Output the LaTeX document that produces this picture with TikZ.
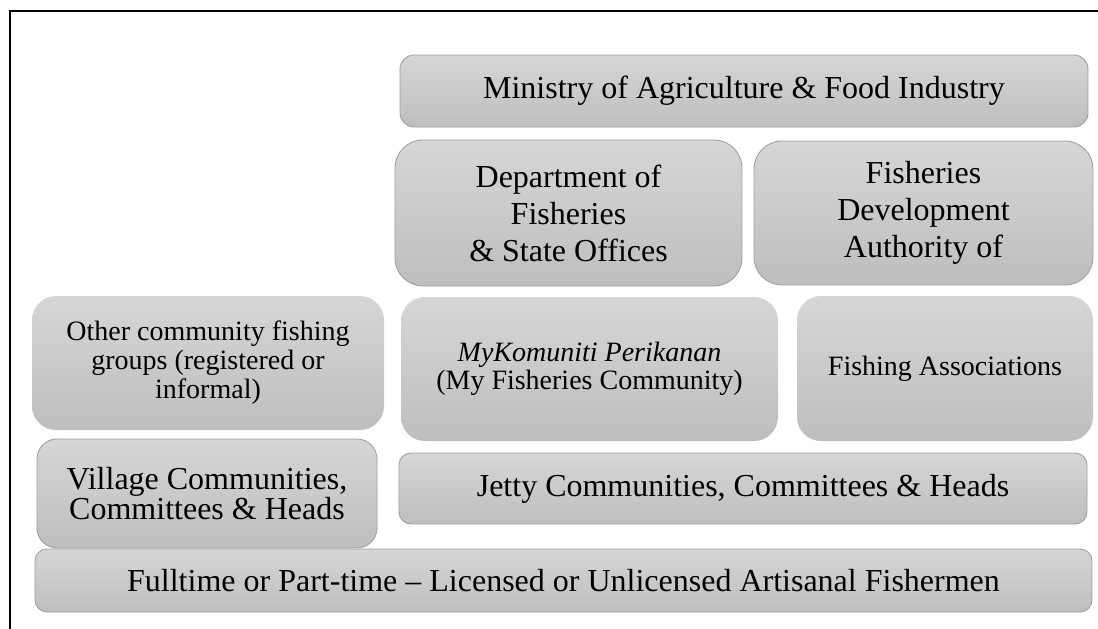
\documentclass[tikz,border=0pt]{standalone}
\usepackage{fontspec}
\setmainfont{Liberation Serif}
\definecolor{boxtop}{RGB}{214,214,214}
\definecolor{boxbot}{RGB}{190,190,190}
\definecolor{boxline}{RGB}{160,160,160}
\begin{document}
\begin{tikzpicture}[x=1pt,y=-1pt,
  tier/.style={rounded corners=#1, top color=boxtop, bottom color=boxbot,
    inner sep=0pt, align=center, text=black},
  framed/.style={draw=boxline, line width=0.9pt},
  big/.style={font=\fontsize{32}{37}\selectfont},
  small/.style={font=\fontsize{28}{29}\selectfont}]
\useasboundingbox (0,0) rectangle (1098,629);
% frame on the top and left
\draw[line width=2.6pt, line join=miter] (1098,11) -- (10,11) -- (10,629);

% top levels
\node[tier=14pt, framed, big, minimum width=688pt, minimum height=72pt] (ministry) at (744,91)
  {Ministry of Agriculture \& Food Industry};
\node[tier=28pt, framed, big, minimum width=347pt, minimum height=146pt] (dof) at (568.5,213)
  {Department of\\Fisheries\\\& State Offices};
\node[tier=28pt, framed, big, minimum width=339pt, minimum height=144pt] (fda) at (923.5,213)
  {Fisheries\\Development\\Authority of};

% community groups
\node[tier=24pt, small, minimum width=352pt, minimum height=134pt] (other) at (208,363)
  {Other community fishing\\groups (registered or\\informal)};
\node[tier=24pt, small, font=\fontsize{28}{28}\selectfont, minimum width=377pt, minimum height=144pt] (mykom) at (589.5,369)
  {\textit{MyKomuniti Perikanan}\\(My Fisheries Community)};
\node[tier=24pt, small, minimum width=296pt, minimum height=145pt] (assoc) at (945,368.5)
  {Fishing Associations};

% local level
\node[tier=20pt, framed, font=\fontsize{32}{28}\selectfont, minimum width=340pt, minimum height=109pt] (village) at (207,493.5)
  {Village Communities,\\Committees \& Heads};
\node[tier=12pt, framed, big, minimum width=688pt, minimum height=71pt] (jetty) at (743,488.5)
  {Jetty Communities, Committees \& Heads};
\node[tier=12pt, framed, big, minimum width=1057pt, minimum height=63pt] (fishermen) at (563.5,580.5)
  {Fulltime or Part-time -- Licensed or Unlicensed Artisanal Fishermen};
\end{tikzpicture}
\end{document}
